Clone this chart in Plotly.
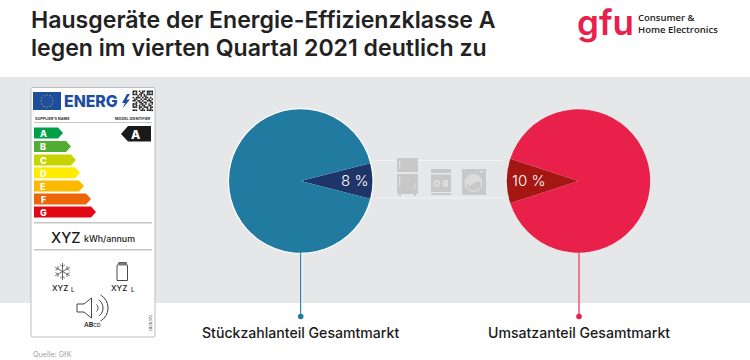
import math
import plotly.graph_objects as go

title_lines = ["Hausgeräte der Energie-Effizienzklasse A", "legen im vierten Quartal 2021 deutlich zu"]
pie_names = ["Stückzahlanteil Gesamtmarkt", "Umsatzanteil Gesamtmarkt"]
a_share = [8, 10]
rest_share = [92, 90]
main_colors = ["#217aa0", "#e8204a"]
slice_colors = ["#1f3468", "#a51712"]
class_letters = ["A", "B", "C", "D", "E", "F", "G"]
class_tips = [63, 71, 76, 80, 84, 91, 96]
class_colors = ["#00a04a", "#52ae32", "#c8d400", "#ffed00", "#fbba00", "#ec6608", "#e30613"]
class_y = [133, 146.5, 160, 172.7, 186, 199, 212]
qr = ["1110101101111", "1010011001101", "1110110101111", "0001010110000",
      "1011101011010", "0110010110101", "1101101001110", "0010110110011",
      "1110011010101", "1010101100110", "1110110111011", "0000101001010", "1110011101111"]

W, H = 750, 360
FONT = "Inter"
GREY = "#e6e7e9"
fx = lambda x: x / W
fy = lambda y: 1 - y / H


def path(points, close=True):
    s = "M " + " L ".join(f"{fx(x):.5f},{fy(y):.5f}" for x, y in points)
    return s + (" Z" if close else "")


shapes, notes = [], []


def rect(x0, y0, x1, y1, fill, line=None, lw=0, layer="below"):
    shapes.append(dict(type="rect", xref="paper", yref="paper", x0=fx(x0), x1=fx(x1), y0=fy(y0), y1=fy(y1),
                       fillcolor=fill, line=dict(color=line or fill, width=lw), layer=layer))


def circ(cx, cy, r, fill, line=None, lw=0, layer="below"):
    shapes.append(dict(type="circle", xref="paper", yref="paper", x0=fx(cx - r), x1=fx(cx + r), y0=fy(cy - r), y1=fy(cy + r),
                       fillcolor=fill, line=dict(color=line or fill, width=lw), layer=layer))


def poly(points, fill=None, line=None, lw=0, close=True, layer="below"):
    shapes.append(dict(type="path", xref="paper", yref="paper", path=path(points, close),
                       fillcolor=fill if fill else "rgba(0,0,0,0)",
                       line=dict(color=line or "rgba(0,0,0,0)", width=lw), layer=layer))


def seg(x0, y0, x1, y1, color, lw=1, layer="below"):
    shapes.append(dict(type="line", xref="paper", yref="paper", x0=fx(x0), x1=fx(x1), y0=fy(y0), y1=fy(y1),
                       line=dict(color=color, width=lw), layer=layer))


def text(x, y, t, size, color="#1a1a1a", anchor="left", weight=400, family=FONT, angle=0):
    notes.append(dict(xref="paper", yref="paper", x=fx(x), y=fy(y), text=t, showarrow=False, xanchor=anchor,
                      yanchor="middle", textangle=angle, borderpad=0, borderwidth=0, align="left",
                      font=dict(size=size, color=color, family=family, weight=weight)))


# backdrop
rect(0, 77, 750, 303, GREY)

# header
text(31, 20, title_lines[0], 23.1, "#222222", weight=600)
text(31, 48, title_lines[1], 23.1, "#222222", weight=600)
text(576.5, 22, "gfu", 35, "#e8204a", weight=600)
text(638, 23.5, "Consumer &amp;<br>Home Electronics", 9.5, "#222222", weight=600, family="Open Sans")

# energy label
shapes.append(dict(type="path", xref="paper", yref="paper", layer="below", fillcolor="#ffffff",
                   line=dict(color="#bdbdbd", width=1),
                   path=path([(32, 87.5), (154, 87.5), (155, 88.5), (155, 336), (154, 337), (32, 337), (31, 336), (31, 88.5)])))
rect(33, 92, 61, 110, "#1d4e9e")
for i in range(12):
    a = math.radians(i * 30)
    circ(47 + 6 * math.cos(a), 101 + 6 * math.sin(a), 0.6, "#e8c53a")
text(63.5, 101.5, "ENERG", 15.8, "#1d4e9e", weight=800)
poly([(127, 94), (122, 103), (125, 103), (122.5, 108.5), (130, 99.5), (126.5, 99.5), (130, 94)], "#1d4e9e")
for r, row in enumerate(qr):
    for c, bit in enumerate(row):
        if bit == "1":
            rect(132.5 + c * 1.58, 90.5 + r * 1.58, 132.5 + (c + 1) * 1.58, 90.5 + (r + 1) * 1.58, "#222222")
text(34.5, 119, "SUPPLIER'S NAME", 3.8, "#333333", weight=700)
text(151, 119, "MODEL IDENTIFIER", 3.8, "#333333", anchor="right", weight=700)
seg(34, 122.5, 152, 122.5, "#c6c6c6", 1)
for letter, tip, color, yc in zip(class_letters, class_tips, class_colors, class_y):
    poly([(34, yc - 5.5), (tip - 5, yc - 5.5), (tip, yc), (tip - 5, yc + 5.5), (34, yc + 5.5)], color)
    text(43, yc + 0.3, letter, 9, "#ffffff", anchor="center", weight=800)
poly([(121, 134), (128, 126), (151, 126), (151, 141.5), (128, 141.5)], "#1a1a1a")
text(135.5, 134, "A", 12, "#ffffff", anchor="center", weight=800)
seg(34, 222.7, 152, 222.7, "#c6c6c6", 1.4)
seg(34, 249.7, 152, 249.7, "#c6c6c6", 1.4)
text(51, 237, "XYZ", 14.5, "#1a1a1a", weight=500)
text(84, 238.5, "kWh/annum", 8.8, "#1a1a1a", weight=500)
# snowflake
sx, sy = 62.5, 271.5
for t in range(30, 360, 60):
    a = math.radians(t)
    seg(sx, sy, sx + 8.5 * math.cos(a), sy + 8.5 * math.sin(a), "#444444", 0.8)
    px_, py_ = sx + 5 * math.cos(a), sy + 5 * math.sin(a)
    for d in (-55, 55):
        b = math.radians(t + d)
        seg(px_, py_, px_ + 3 * math.cos(b), py_ + 3 * math.sin(b), "#444444", 0.7)
text(51.5, 287.5, "XYZ", 8, "#1a1a1a", weight=500)
text(71, 289, "L", 6.2, "#1a1a1a", weight=500)
# bottle
poly([(119, 262.5), (126, 262.5), (127.5, 266), (127.5, 280.5), (117, 280.5), (117, 266)], None, "#333333", 0.9)
rect(118.5, 262.5, 126.5, 265.5, "#777777")
text(110.5, 287.5, "XYZ", 8, "#1a1a1a", weight=500)
text(131, 289, "L", 6.2, "#1a1a1a", weight=500)
# speaker
poly([(77, 304), (84, 304), (91.5, 298), (91.5, 318), (84, 312), (77, 312)], None, "#333333", 0.9)
for r_, sp in ((5, 45), (10, 55), (15, 60)):
    pts = [(93 + r_ * math.cos(math.radians(t)), 308 + r_ * math.sin(math.radians(t))) for t in range(-sp, sp + 1, 6)]
    poly(pts, None, "#333333", 1, close=False)
text(92.5, 324.5, "A<b>B</b><span style='font-size:5px'>CD</span>", 6.8, "#1a1a1a", anchor="center", weight=500)
text(149.5, 323, "2021/372", 3.8, "#333333", anchor="center", angle=-90)
text(33, 354, "Quelle: GfK", 7.2, "#a3a3a3")

# centre rules and appliance icons
seg(376, 160.5, 503, 160.5, "#f3f3f4", 1)
seg(376, 198, 503, 198, "#f3f3f4", 1)
IC = "#c8c8c8"
rect(397, 158, 418, 172, IC)
rect(397, 174, 418, 194, IC)
rect(399, 194, 401, 196, IC)
rect(414, 194, 416, 196, IC)
rect(399, 161, 400.3, 169, "#dcdcdc")
rect(399, 176, 400.3, 186, "#dcdcdc")
seg(416, 183, 413, 190, "#dcdcdc", 1)
rect(431, 169, 451, 173, IC)
rect(431, 174.5, 451, 192, IC)
rect(431, 193, 451, 195, IC)
circ(437, 183.5, 3.5, "#dcdcdc")
circ(437, 183.5, 1.6, IC)
rect(443, 180, 448, 187, "#dcdcdc")
rect(462, 169, 486, 195, IC)
circ(473.5, 183, 9, "#dcdcdc")
poly([(466, 183), (470, 186), (474, 183), (478, 181), (481, 183), (480, 188), (474, 191), (468, 189)], IC)
rect(480, 171, 484, 172.5, "#dcdcdc")

# pies
centres = [(300.7, 181), (578.5, 181)]
R = 71.7
slice_mid = [90, 270]
fig = go.Figure()
for i, (cx, cy) in enumerate(centres):
    circ(cx, cy, R + 1.2, "#ffffff" if i == 0 else GREY)
    deg = a_share[i] / (a_share[i] + rest_share[i]) * 360
    fig.add_trace(go.Pie(values=[a_share[i], rest_share[i]], labels=["Energieeffizienzklasse A", "Andere"],
                         sort=False, direction="clockwise", rotation=slice_mid[i] - deg / 2,
                         textinfo="none", hoverinfo="skip", showlegend=False,
                         marker=dict(colors=[slice_colors[i], main_colors[i]], line=dict(width=0)),
                         domain=dict(x=[(cx - R) / W, (cx + R) / W], y=[1 - (cy + R) / H, 1 - (cy - R) / H])))

text(354.5, 180.5, f"{a_share[0]} %", 15, "#ffffff", anchor="center", weight=300)
text(528.5, 180.5, f"{a_share[1]} %", 15, "#ffffff", anchor="center", weight=300)

# leaders
seg(300.7, 253, 300.7, 316, main_colors[0], 1.2)
seg(302, 253, 302, 316, "#ffffff", 0.8)
circ(300.7, 316.5, 2.8, main_colors[0])
seg(579, 253, 579, 316, "#ee4a68", 1.4)
circ(579, 316.5, 2.8, main_colors[1])
text(300.5, 332, pie_names[0], 14.1, "#1a1a1a", anchor="center", weight=500)
text(579, 332, pie_names[1], 14.1, "#1a1a1a", anchor="center", weight=500)

fig.update_layout(width=W, height=H, autosize=False, margin=dict(l=0, r=0, t=0, b=0),
                  paper_bgcolor="#ffffff", plot_bgcolor="#ffffff", shapes=shapes, annotations=notes)
fig.write_html("out.html", config=dict(displayModeBar=False),
               post_script="document.body.style.margin='0';document.body.style.overflow='hidden';")
